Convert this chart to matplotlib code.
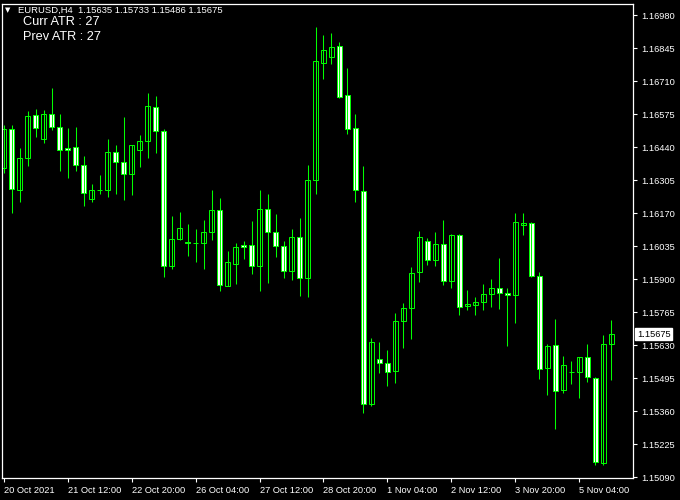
import numpy as np
import matplotlib
matplotlib.use("Agg")
import matplotlib.pyplot as plt

# EURUSD H4 candles, oldest first
opens = [1.16353, 1.16512, 1.16263, 1.16394, 1.16570, 1.16472, 1.16574, 1.16521, 1.16435, 1.16439,
         1.16365, 1.16226, 1.16263, 1.16263, 1.16418, 1.16378, 1.16328, 1.16427, 1.16463, 1.16602,
         1.16504, 1.15952, 1.16062, 1.16050, 1.16046, 1.16046, 1.16091, 1.16181, 1.15870, 1.15960,
         1.16038, 1.16038, 1.15952, 1.16185, 1.16091, 1.16034, 1.15932, 1.16071, 1.15903, 1.16304,
         1.16782, 1.16807, 1.16852, 1.16652, 1.16517, 1.16259, 1.15387, 1.15572, 1.15555, 1.15522,
         1.15727, 1.15780, 1.15927, 1.16054, 1.15977, 1.16042, 1.15891, 1.16079, 1.15788, 1.15792,
         1.15805, 1.15837, 1.15862, 1.15842, 1.15833, 1.16120, 1.16128, 1.15911, 1.15535, 1.15629,
         1.15445, 1.15520, 1.15518, 1.15580, 1.15494, 1.15146, 1.15635]
highs = [1.16530, 1.16530, 1.16436, 1.16587, 1.16596, 1.16591, 1.16681, 1.16575, 1.16518, 1.16522,
         1.16403, 1.16289, 1.16326, 1.16473, 1.16448, 1.16563, 1.16449, 1.16489, 1.16661, 1.16649,
         1.16514, 1.16158, 1.16174, 1.16125, 1.16105, 1.16141, 1.16264, 1.16231, 1.16013, 1.16046,
         1.16054, 1.16137, 1.16264, 1.16248, 1.16166, 1.16054, 1.16105, 1.16150, 1.16365, 1.16931,
         1.16898, 1.16906, 1.16868, 1.16762, 1.16575, 1.16362, 1.15659, 1.15642, 1.15610, 1.15760,
         1.15801, 1.15948, 1.16096, 1.16067, 1.16091, 1.16141, 1.16083, 1.16083, 1.15854, 1.15826,
         1.15880, 1.15900, 1.15985, 1.15862, 1.16170, 1.16170, 1.16132, 1.15929, 1.15633, 1.15735,
         1.15584, 1.15563, 1.15582, 1.15633, 1.15498, 1.15670, 1.15733]
lows = [1.16332, 1.16171, 1.16216, 1.16364, 1.16482, 1.16458, 1.16510, 1.16343, 1.16314, 1.16343,
        1.16200, 1.16216, 1.16249, 1.16237, 1.16249, 1.16224, 1.16245, 1.16359, 1.16396, 1.16417,
        1.15909, 1.15942, 1.16060, 1.15995, 1.15971, 1.15942, 1.16061, 1.15852, 1.15870, 1.15881,
        1.15981, 1.15922, 1.15852, 1.15885, 1.15991, 1.15905, 1.15897, 1.15832, 1.15828, 1.16249,
        1.16719, 1.16781, 1.16642, 1.16494, 1.16216, 1.15353, 1.15382, 1.15517, 1.15464, 1.15476,
        1.15619, 1.15656, 1.15889, 1.15959, 1.15954, 1.15877, 1.15864, 1.15754, 1.15775, 1.15754,
        1.15774, 1.15787, 1.15779, 1.15627, 1.15721, 1.16079, 1.15908, 1.15492, 1.15427, 1.15288,
        1.15432, 1.15472, 1.15414, 1.15477, 1.15138, 1.15138, 1.15486]
closes = [1.16512, 1.16267, 1.16394, 1.16566, 1.16517, 1.16574, 1.16521, 1.16427, 1.16427, 1.16365,
          1.16251, 1.16263, 1.16263, 1.16418, 1.16378, 1.16328, 1.16447, 1.16463, 1.16607, 1.16504,
          1.15952, 1.16062, 1.16107, 1.16046, 1.16046, 1.16091, 1.16181, 1.15874, 1.15968, 1.16030,
          1.16030, 1.15952, 1.16185, 1.16091, 1.16034, 1.15932, 1.16071, 1.15903, 1.16304, 1.16791,
          1.16836, 1.16848, 1.16646, 1.16512, 1.16263, 1.15387, 1.15641, 1.15555, 1.15518, 1.15727,
          1.15780, 1.15923, 1.16071, 1.15977, 1.16042, 1.15891, 1.16079, 1.15784, 1.15797, 1.15805,
          1.15837, 1.15862, 1.15842, 1.15833, 1.16132, 1.16128, 1.15911, 1.15531, 1.15625, 1.15441,
          1.15547, 1.15520, 1.15580, 1.15498, 1.15150, 1.15635, 1.15675]

time_labels = ["20 Oct 2021", "21 Oct 12:00", "22 Oct 20:00", "26 Oct 04:00", "27 Oct 12:00",
               "28 Oct 20:00", "1 Nov 04:00", "2 Nov 12:00", "3 Nov 20:00", "5 Nov 04:00"]
bars_per_label = 8
price_ticks = [1.16980, 1.16845, 1.16710, 1.16575, 1.16440, 1.16305, 1.16170, 1.16035,
               1.15900, 1.15765, 1.15630, 1.15495, 1.15360, 1.15225, 1.15090]
last_price = 1.15675
header = "EURUSD,H4  1.15635 1.15733 1.15486 1.15675"
atr_lines = ["Curr ATR : 27", "Prev ATR : 27"]

GREEN = "#00ff00"
FONT = "Liberation Sans"

o = np.array(opens)
h = np.array(highs)
l = np.array(lows)
c = np.array(closes)
x = np.arange(len(o))
bear = c < o

fig = plt.figure(figsize=(6.8, 5), dpi=100, facecolor="black")
ax = fig.add_axes([2 / 680, 22 / 500, 631 / 680, 474 / 500])
ax.set_facecolor("black")

# wicks first, bodies on top
ax.vlines(x, l, h, color=GREEN, linewidth=0.75)
ax.bar(x, np.abs(c - o), bottom=np.minimum(o, c), width=0.6,
       color=np.where(bear, "white", "black"), edgecolor=GREEN, linewidth=0.7)

ax.set_xlim(-0.19, 78.69)
ax.set_ylim(1.15086, 1.17025)

for s in ax.spines.values():
    s.set_color("white")
    s.set_linewidth(0.9)

ax.yaxis.tick_right()
ax.set_yticks(price_ticks)
ax.set_yticklabels([f"{p:.5f}" for p in price_ticks], fontfamily=FONT)
ax.tick_params(axis="y", colors="white", labelsize=6.7, length=3, width=0.8, pad=3)

ax.set_xticks(np.arange(len(time_labels)) * bars_per_label)
ax.set_xticklabels(time_labels, fontfamily=FONT)
ax.tick_params(axis="x", colors="white", labelsize=6.7, length=3, width=0.8, pad=3)
for lbl in ax.get_xticklabels():
    lbl.set_horizontalalignment("left")

# current price box on the price scale
ax.text(1.006, last_price, f"{last_price:.5f}", transform=ax.get_yaxis_transform(),
        ha="left", va="center", fontsize=6.7, family=FONT, color="black",
        bbox=dict(boxstyle="square,pad=0.18", fc="white", ec="white"))

fig.text(5 / 680, 1 - 10 / 500, "\u25bc", color="white", fontsize=5, va="center", family="DejaVu Sans")
fig.text(18 / 680, 1 - 10 / 500, header, color="white", fontsize=6.8, va="center", family=FONT)
for i, t in enumerate(atr_lines):
    fig.text(23 / 680, 1 - (22 + 15 * i) / 500, t, color="white", fontsize=9.2, va="center", family=FONT)

fig.savefig("out.png", dpi=100, facecolor="black")
